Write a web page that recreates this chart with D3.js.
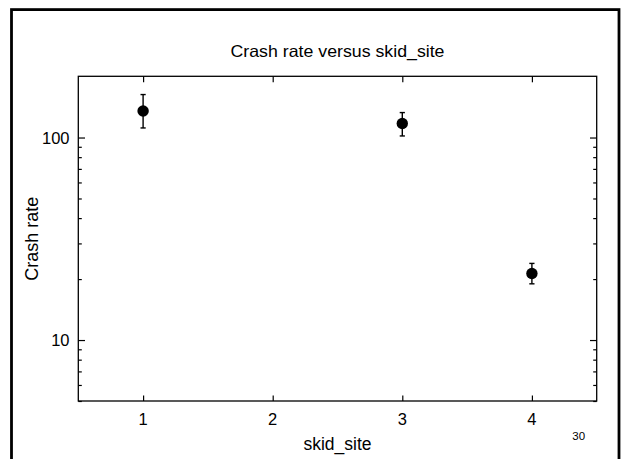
<!DOCTYPE html>
<html>
<head>
<meta charset="utf-8">
<script src="https://cdn.jsdelivr.net/npm/d3@7"></script>
<style>
  body { margin: 0; background: #fff; }
  svg { display: block; }
  text { font-family: "Liberation Sans", Arial, sans-serif; fill: #000; }
</style>
</head>
<body>
<svg id="chart" width="621" height="459"></svg>
<script>
// ---- data ----
const sites = [1, 3, 4];
const rates = [135.3, 117.2, 21.3];
const lowerCI = [111.5, 101.8, 18.95];
const upperCI = [163, 132.8, 23.9];
const xTicks = [1, 2, 3, 4];
const yMajorTicks = [10, 100];
const yMinorTicks = [5, 6, 7, 8, 9, 20, 30, 40, 50, 60, 70, 80, 90];
const titleText = "Crash rate versus skid_site";
const xLabel = "skid_site";
const yLabel = "Crash rate";
const pageNote = "30";

const svg = d3.select("#chart");
const L = 78.3, R = 596.7, T = 76.3, B = 401;

const x = d3.scaleLinear().domain([0.5, 4.5]).range([L, R]);
const y = d3.scaleLog().domain([5, 200.6]).range([B, T]);

// page border
svg.append("rect")
  .attr("x", 11.5).attr("y", 9.6)
  .attr("width", 607.5).attr("height", 500)
  .attr("fill", "none").attr("stroke", "#000").attr("stroke-width", 2.8);

// title
svg.append("text")
  .attr("x", (L + R) / 2).attr("y", 56.5)
  .attr("text-anchor", "middle")
  .attr("font-size", 16.5)
  .attr("textLength", 214).attr("lengthAdjust", "spacingAndGlyphs")
  .text(titleText);

const g = svg.append("g");

// axes (ticks inward)
const axStroke = "#000";
g.append("g").attr("transform", `translate(0,${B})`)
  .call(d3.axisBottom(x).tickValues(xTicks).tickSizeInner(-5.5).tickSizeOuter(0).tickFormat(""))
  .call(s => s.select(".domain").remove());
g.append("g").attr("transform", `translate(0,${T})`)
  .call(d3.axisTop(x).tickValues(xTicks).tickSizeInner(-6).tickSizeOuter(0).tickFormat(""))
  .call(s => s.select(".domain").remove());
g.append("g").attr("transform", `translate(${L},0)`)
  .call(d3.axisLeft(y).tickValues(yMajorTicks).tickSizeInner(-6.7).tickSizeOuter(0).tickFormat(""))
  .call(s => s.select(".domain").remove());
g.append("g").attr("transform", `translate(${L},0)`)
  .call(d3.axisLeft(y).tickValues(yMinorTicks).tickSizeInner(-3.5).tickSizeOuter(0).tickFormat(""))
  .call(s => s.select(".domain").remove());
g.append("g").attr("transform", `translate(${R},0)`)
  .call(d3.axisRight(y).tickValues(yMajorTicks).tickSizeInner(-6.7).tickSizeOuter(0).tickFormat(""))
  .call(s => s.select(".domain").remove());
g.append("g").attr("transform", `translate(${R},0)`)
  .call(d3.axisRight(y).tickValues(yMinorTicks).tickSizeInner(-3.5).tickSizeOuter(0).tickFormat(""))
  .call(s => s.select(".domain").remove());
g.selectAll(".tick line").attr("stroke", axStroke).attr("stroke-width", 1.2);

// frame
g.append("rect")
  .attr("x", L).attr("y", T).attr("width", R - L).attr("height", B - T)
  .attr("fill", "none").attr("stroke", "#000").attr("stroke-width", 1.3);

// tick labels
svg.selectAll(".xtl").data(xTicks).enter().append("text")
  .attr("class", "xtl")
  .attr("x", d => x(d)).attr("y", 425)
  .attr("text-anchor", "middle").attr("font-size", 16.5)
  .text(d => d);
svg.selectAll(".ytl").data(yMajorTicks).enter().append("text")
  .attr("class", "ytl")
  .attr("x", 69.5).attr("y", d => y(d) + 6)
  .attr("text-anchor", "end").attr("font-size", 16.5)
  .text(d => d);

// axis labels
svg.append("text")
  .attr("x", (L + R) / 2).attr("y", 450)
  .attr("text-anchor", "middle").attr("font-size", 17.5)
  .text(xLabel);
svg.append("text")
  .attr("transform", `translate(37.5,${(T + B) / 2}) rotate(-90)`)
  .attr("text-anchor", "middle").attr("font-size", 17.5)
  .attr("textLength", 84).attr("lengthAdjust", "spacingAndGlyphs")
  .text(yLabel);

// page note
svg.append("text")
  .attr("x", 578.7).attr("y", 440)
  .attr("text-anchor", "middle").attr("font-size", 11.5)
  .text(pageNote);

// error bars
const pts = sites.map((s, i) => ({ s, r: rates[i], lo: lowerCI[i], hi: upperCI[i] }));
const eb = g.selectAll(".eb").data(pts).enter().append("g");
eb.append("line")
  .attr("x1", d => x(d.s)).attr("x2", d => x(d.s))
  .attr("y1", d => y(d.lo)).attr("y2", d => y(d.hi))
  .attr("stroke", "#000").attr("stroke-width", 1.4);
eb.append("line")
  .attr("x1", d => x(d.s) - 2.6).attr("x2", d => x(d.s) + 2.6)
  .attr("y1", d => y(d.lo)).attr("y2", d => y(d.lo))
  .attr("stroke", "#000").attr("stroke-width", 1.4);
eb.append("line")
  .attr("x1", d => x(d.s) - 2.6).attr("x2", d => x(d.s) + 2.6)
  .attr("y1", d => y(d.hi)).attr("y2", d => y(d.hi))
  .attr("stroke", "#000").attr("stroke-width", 1.4);

// points
g.selectAll(".pt").data(pts).enter().append("circle")
  .attr("cx", d => x(d.s)).attr("cy", d => y(d.r))
  .attr("r", 5.7).attr("fill", "#000");
</script>
</body>
</html>
